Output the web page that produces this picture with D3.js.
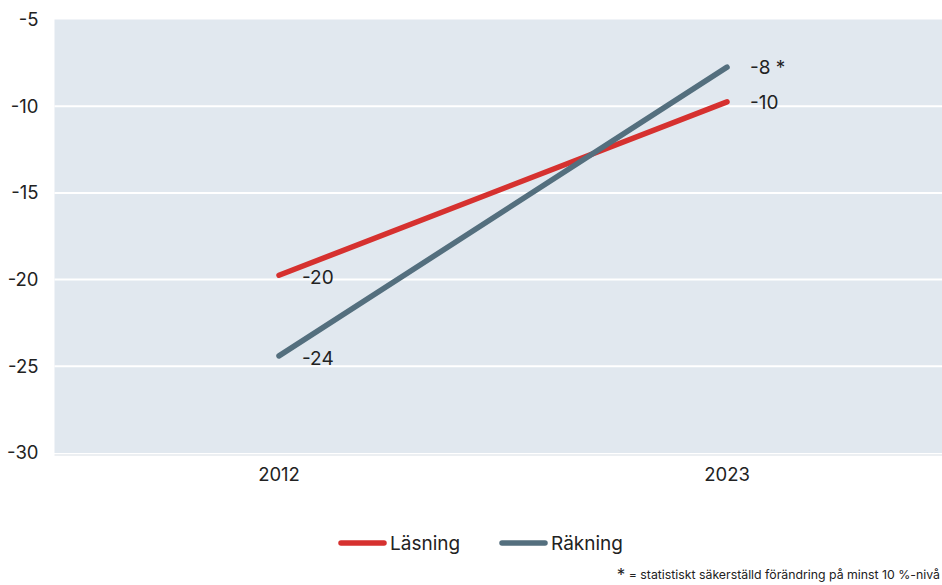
<!DOCTYPE html>
<html>
<head>
<meta charset="utf-8">
<script src="https://cdn.jsdelivr.net/npm/d3@7"></script>
<style>
  body { margin: 0; background: #fff; }
  svg { display: block; font-family: "Inter", "Lato", sans-serif; }
</style>
</head>
<body>
<svg width="942" height="585"></svg>
<script>
// Categories and series values
const years = ["2012", "2023"];
const lasning = [-19.75, -9.75];
const rakning = [-24.4, -7.75];
const lasningLabels = ["-20", "-10"];
const rakningLabels = ["-24", "-8 *"];
const yTicks = [-5, -10, -15, -20, -25, -30];
const seriesNames = ["Läsning", "Räkning"];
const footnote = "= statistiskt säkerställd förändring på minst 10 %-nivå";

const colors = { "Läsning": "#d6312f", "Räkning": "#546f7e" };

const width = 942, height = 585;
const margin = { top: 19.5, right: 0, bottom: 132, left: 54.5 };
const font = "Inter, Lato, sans-serif";

const svg = d3.select("svg");

// band runs a little past the right edge, as in the original
const x = d3.scaleBand()
    .domain(years)
    .range([55, 951]);

const y = d3.scaleLinear()
    .domain([-30, -5])
    .range([height - margin.bottom, margin.top]);

// plot background
svg.append("rect")
    .attr("x", margin.left)
    .attr("y", margin.top)
    .attr("width", width - margin.right - margin.left)
    .attr("height", y(-30) - margin.top)
    .attr("fill", "#e1e8ef");

// light baseline under plot
svg.append("line")
    .attr("x1", margin.left).attr("x2", width)
    .attr("y1", y(-30) + 2).attr("y2", y(-30) + 2)
    .attr("stroke", "#e6eaee")
    .attr("stroke-width", 1.5);

// gridlines
svg.append("g")
  .selectAll("line")
  .data(yTicks.filter(d => d > -30 && d < -5))
  .join("line")
    .attr("x1", margin.left)
    .attr("x2", width - margin.right)
    .attr("y1", d => y(d))
    .attr("y2", d => y(d))
    .attr("stroke", "#fff")
    .attr("stroke-width", 2);

// y axis labels
const yAxis = svg.append("g")
    .attr("transform", `translate(${margin.left},0)`)
    .call(d3.axisLeft(y).tickValues(yTicks).tickSize(0).tickPadding(16).tickFormat(d => String(d)));
yAxis.select(".domain").remove();
yAxis.selectAll("text")
    .attr("font-size", 18.5)
    .attr("font-family", font)
    .attr("fill", "#222");

// x axis labels
const xAxis = svg.append("g")
    .attr("transform", `translate(0,${y(-30)})`)
    .call(d3.axisBottom(x).tickSize(0).tickPadding(15));
xAxis.select(".domain").remove();
xAxis.selectAll("text")
    .attr("font-size", 18.5)
    .attr("font-family", font)
    .attr("fill", "#222");

const series = [
  { name: seriesNames[0], values: lasning, labels: lasningLabels },
  { name: seriesNames[1], values: rakning, labels: rakningLabels }
];

const cx = d => x(d) + x.bandwidth() / 2;

const line = d3.line()
    .x((d, i) => cx(years[i]))
    .y(d => y(d));

svg.append("g")
  .selectAll("path")
  .data(series)
  .join("path")
    .attr("d", d => line(d.values))
    .attr("fill", "none")
    .attr("stroke", d => colors[d.name])
    .attr("stroke-width", 5.5)
    .attr("stroke-linecap", "round");

// value labels
series.forEach(s => {
  svg.append("g")
    .selectAll("text")
    .data(s.values)
    .join("text")
      .attr("x", (d, i) => cx(years[i]) + 23)
      .attr("y", (d, i) => y(d) + (i === 0 ? 2 : 0))
      .attr("dy", "0.35em")
      .attr("font-size", 19)
      .attr("fill", "#222")
      .text((d, i) => s.labels[i]);
});

// legend
const legend = svg.append("g")
  .selectAll("g")
  .data(seriesNames)
  .join("g")
    .attr("transform", (d, i) => `translate(${[341, 502][i]},543)`);
legend.append("line")
    .attr("x1", 0).attr("x2", 43)
    .attr("stroke", d => colors[d])
    .attr("stroke-width", 5.5)
    .attr("stroke-linecap", "round");
legend.append("text")
    .attr("x", 49)
    .attr("dy", "0.35em")
    .attr("font-size", 19)
    .attr("fill", "#222")
    .text(d => d);

// footnote
const fn = svg.append("text")
    .attr("x", 940)
    .attr("y", 579)
    .attr("text-anchor", "end")
    .attr("font-size", 12.3)
    .attr("fill", "#222");
fn.append("tspan").attr("font-size", 17).attr("dy", 2).text("*");
fn.append("tspan").attr("dy", -2).text(" " + footnote);
</script>
</body>
</html>
